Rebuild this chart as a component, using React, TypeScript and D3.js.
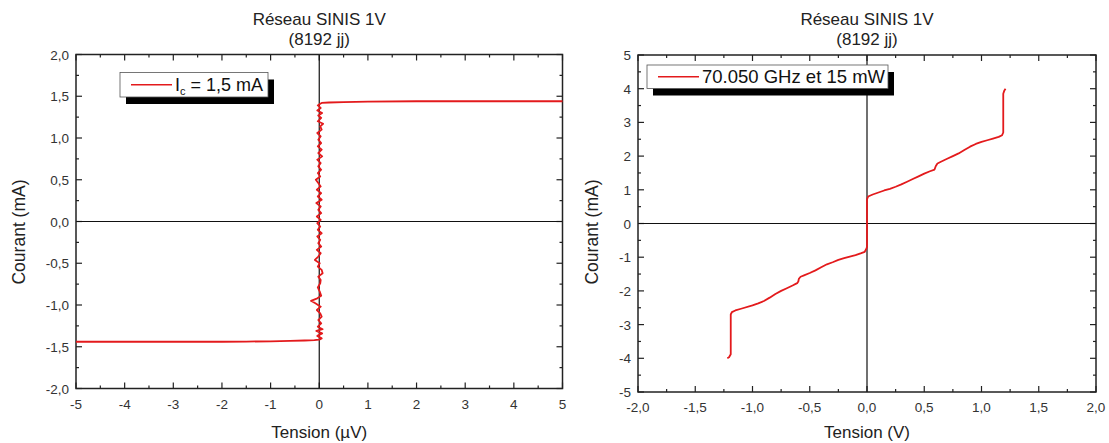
import { useEffect, useRef } from 'react'
import * as d3 from 'd3'

// Left panel: critical current sweep (µV, mA)
const jjTension = [
  -5, -4, -3, -2, -1.5, -1, -0.6, -0.3, -0.1, 0.0,
  0.05, -0.04, 0.06, -0.06, 0.07, -0.03, 0.04, -0.02, 0.05, 0.02,
  -0.05, 0.03, -0.08, -0.17, -0.04, 0.04, 0.01, -0.03, 0.02, 0.03,
  -0.02, 0.07, 0.05, -0.03, 0.01, -0.09, -0.02, 0.03, -0.05, 0.04,
  -0.02, 0.02, -0.04, 0.05, -0.03, 0.02, -0.04, 0.03, -0.05, 0.04,
  -0.02, 0.03, -0.06, 0.05, -0.03, 0.04, -0.05, 0.03, -0.02, -0.07,
  0.02, -0.03, 0.04, -0.02, 0.03, -0.04, 0.06, -0.02, 0.05, -0.03,
  0.04, -0.02, 0.03, -0.04, 0.05, 0.02, 0.08, -0.03, 0.04, -0.02,
  0.06, -0.04, 0.03, -0.03, 0.02,
  0.05, 0.2, 0.5, 1, 2, 3, 4, 5
]
const jjCourant = [
  -1.44, -1.44, -1.44, -1.44, -1.438, -1.435, -1.43, -1.425, -1.42, -1.415,
  -1.40, -1.37, -1.34, -1.31, -1.29, -1.26, -1.22, -1.18, -1.14, -1.10,
  -1.06, -1.02, -0.98, -0.95, -0.92, -0.89, -0.84, -0.79, -0.74, -0.70,
  -0.66, -0.62, -0.58, -0.54, -0.50, -0.46, -0.42, -0.38, -0.34, -0.30,
  -0.26, -0.22, -0.18, -0.14, -0.10, -0.06, -0.02, 0.02, 0.06, 0.10,
  0.14, 0.18, 0.22, 0.26, 0.30, 0.34, 0.38, 0.42, 0.46, 0.50,
  0.54, 0.58, 0.62, 0.66, 0.70, 0.74, 0.78, 0.82, 0.86, 0.90,
  0.94, 0.98, 1.02, 1.06, 1.10, 1.14, 1.17, 1.20, 1.24, 1.27,
  1.30, 1.33, 1.36, 1.39, 1.41,
  1.42, 1.425, 1.43, 1.435, 1.44, 1.44, 1.44, 1.44
]

// Right panel: under 70 GHz irradiation (V, mA)
const rfTension = [
  -1.22, -1.205, -1.19, -1.19, -1.19, -1.18, -1.15, -1.1, -1.0, -0.95,
  -0.9, -0.85, -0.8, -0.75, -0.7, -0.65, -0.61, -0.6, -0.595, -0.58,
  -0.55, -0.5, -0.45, -0.4, -0.35, -0.3, -0.25, -0.2, -0.15, -0.1,
  -0.05, -0.02, -0.01, 0, 0, 0, 0.01, 0.05, 0.1, 0.15,
  0.2, 0.25, 0.3, 0.35, 0.4, 0.45, 0.5, 0.55, 0.59, 0.6,
  0.615, 0.65, 0.7, 0.75, 0.8, 0.85, 0.9, 0.95, 1.0, 1.05,
  1.1, 1.15, 1.18, 1.19, 1.19, 1.19, 1.2, 1.21
]
const rfCourant = [
  -4.0, -3.97, -3.88, -3.3, -2.7, -2.63, -2.58, -2.53, -2.43, -2.37,
  -2.3, -2.2, -2.09, -2.0, -1.92, -1.84, -1.77, -1.72, -1.64, -1.58,
  -1.54, -1.47, -1.39, -1.3, -1.21, -1.15, -1.08, -1.03, -0.98, -0.94,
  -0.88, -0.84, -0.78, -0.7, 0, 0.72, 0.8, 0.86, 0.92, 0.98,
  1.03, 1.09, 1.16, 1.24, 1.32, 1.4, 1.48, 1.55, 1.6, 1.7,
  1.78, 1.84, 1.92, 2.0, 2.08, 2.18, 2.28, 2.36, 2.42, 2.47,
  2.52, 2.57, 2.62, 2.7, 3.3, 3.85, 3.95, 4.0
]

const leftXTicks = [-5, -4, -3, -2, -1, 0, 1, 2, 3, 4, 5]
const leftYTicks = [-2, -1.5, -1, -0.5, 0, 0.5, 1, 1.5, 2]
const rightXTicks = [-2, -1.5, -1, -0.5, 0, 0.5, 1, 1.5, 2]
const rightYTicks = [-5, -4, -3, -2, -1, 0, 1, 2, 3, 4, 5]

const FONT = "'Liberation Sans', Arial, sans-serif"
const RED = '#e31a1c'
const comma = (d: number) => d.toFixed(1).replace('.', ',')
const integer = (d: number) => `${d}`

interface Panel {
  box: { left: number; right: number; top: number; bottom: number }
  xDomain: [number, number]
  yDomain: [number, number]
  xTicks: number[]
  yTicks: number[]
  xFmt: (d: number) => string
  yFmt: (d: number) => string
  xs: number[]
  ys: number[]
  xTitle: string
  yTitleX: number
  legend: { x: number; y: number; w: number; h: number; size: number }
  legendText: 'ic' | string
}

function drawPanel(svg: d3.Selection<SVGSVGElement, unknown, null, undefined>, p: Panel) {
  const { box } = p
  const x = d3.scaleLinear().domain(p.xDomain).range([box.left, box.right])
  const y = d3.scaleLinear().domain(p.yDomain).range([box.bottom, box.top])
  const g = svg.append('g')

  const xStep = p.xTicks[1] - p.xTicks[0]
  const yStep = p.yTicks[1] - p.yTicks[0]
  const xMinor = p.xTicks.slice(0, -1).map(d => d + xStep / 2)
  const yMinor = p.yTicks.slice(0, -1).map(d => d + yStep / 2)
  const major = 6
  const minor = 3
  const tickColor = '#222'

  // ticks pointing inward on all four sides
  const tickG = g.append('g').attr('stroke', tickColor).attr('stroke-width', 1.2)
  ;[[p.xTicks, major], [xMinor, minor]].forEach(([vals, len]) => {
    ;(vals as number[]).forEach(v => {
      tickG.append('line').attr('x1', x(v)).attr('x2', x(v)).attr('y1', box.bottom).attr('y2', box.bottom - (len as number))
      tickG.append('line').attr('x1', x(v)).attr('x2', x(v)).attr('y1', box.top).attr('y2', box.top + (len as number))
    })
  })
  ;[[p.yTicks, major], [yMinor, minor]].forEach(([vals, len]) => {
    ;(vals as number[]).forEach(v => {
      tickG.append('line').attr('y1', y(v)).attr('y2', y(v)).attr('x1', box.left).attr('x2', box.left + (len as number))
      tickG.append('line').attr('y1', y(v)).attr('y2', y(v)).attr('x1', box.right).attr('x2', box.right - (len as number))
    })
  })

  // zero lines
  g.append('line')
    .attr('x1', x(0)).attr('x2', x(0)).attr('y1', box.top).attr('y2', box.bottom)
    .attr('stroke', '#111').attr('stroke-width', 1.2)
  g.append('line')
    .attr('x1', box.left).attr('x2', box.right).attr('y1', y(0)).attr('y2', y(0))
    .attr('stroke', '#111').attr('stroke-width', 1.2)

  // frame
  g.append('rect')
    .attr('x', box.left).attr('y', box.top)
    .attr('width', box.right - box.left).attr('height', box.bottom - box.top)
    .attr('fill', 'none').attr('stroke', tickColor).attr('stroke-width', 1.5)

  // tick labels
  g.append('g')
    .selectAll('text')
    .data(p.xTicks)
    .join('text')
    .attr('x', d => x(d))
    .attr('y', box.bottom + 20)
    .attr('text-anchor', 'middle')
    .attr('font-size', 13.5)
    .attr('fill', '#333')
    .text(d => p.xFmt(d))
  g.append('g')
    .selectAll('text')
    .data(p.yTicks)
    .join('text')
    .attr('x', box.left - 7)
    .attr('y', d => y(d) + 5)
    .attr('text-anchor', 'end')
    .attr('font-size', 13.5)
    .attr('fill', '#333')
    .text(d => p.yFmt(d))

  // curve
  const pts = p.xs.map((v, i) => [v, p.ys[i]] as [number, number])
  g.append('path')
    .datum(pts)
    .attr('fill', 'none')
    .attr('stroke', RED)
    .attr('stroke-width', 1.8)
    .attr('stroke-linejoin', 'round')
    .attr('d', d3.line<[number, number]>().x(d => x(d[0])).y(d => y(d[1])))

  // titles
  const cx = (box.left + box.right) / 2
  g.append('text').attr('x', cx).attr('y', 25).attr('text-anchor', 'middle')
    .attr('font-size', 17).attr('fill', '#222').text('Réseau SINIS 1V')
  g.append('text').attr('x', cx).attr('y', 45).attr('text-anchor', 'middle')
    .attr('font-size', 17).attr('fill', '#222').text('(8192 jj)')
  g.append('text').attr('x', cx).attr('y', 438).attr('text-anchor', 'middle')
    .attr('font-size', 17).attr('fill', '#222').text(p.xTitle)
  g.append('text')
    .attr('transform', `translate(${p.yTitleX},232) rotate(-90)`)
    .attr('text-anchor', 'middle')
    .attr('font-size', 17.5).attr('fill', '#222').text('Courant (mA)')

  // legend with drop shadow
  const L = p.legend
  g.append('rect').attr('x', L.x + 6).attr('y', L.y + 7).attr('width', L.w).attr('height', L.h).attr('fill', '#000')
  g.append('rect').attr('x', L.x).attr('y', L.y).attr('width', L.w).attr('height', L.h)
    .attr('fill', '#fff').attr('stroke', '#555').attr('stroke-width', 0.8)
  const midY = L.y + L.h / 2
  g.append('line').attr('x1', L.x + 11).attr('x2', L.x + 52).attr('y1', midY).attr('y2', midY)
    .attr('stroke', RED).attr('stroke-width', 1.7)
  const t = g.append('text').attr('x', L.x + 55).attr('y', midY + L.size * 0.36)
    .attr('font-size', L.size).attr('fill', '#111')
  if (p.legendText === 'ic') {
    t.append('tspan').text('I')
    t.append('tspan').attr('dy', 4).attr('font-size', 11).text('c')
    t.append('tspan').attr('dy', -4).text(' = 1,5 mA')
  } else {
    t.text(p.legendText)
  }
}

export default function App() {
  const svgRef = useRef<SVGSVGElement>(null)

  useEffect(() => {
    if (!svgRef.current) return
    const svg = d3.select(svgRef.current)
    svg.selectAll('*').remove()

    drawPanel(svg, {
      box: { left: 76, right: 562.5, top: 54.5, bottom: 388.5 },
      xDomain: [-5, 5],
      yDomain: [-2, 2],
      xTicks: leftXTicks,
      yTicks: leftYTicks,
      xFmt: integer,
      yFmt: comma,
      xs: jjTension,
      ys: jjCourant,
      xTitle: 'Tension (µV)',
      yTitleX: 25,
      legend: { x: 120, y: 72.5, w: 148, h: 24.5, size: 18 },
      legendText: 'ic'
    })

    drawPanel(svg, {
      box: { left: 638, right: 1096, top: 55, bottom: 392 },
      xDomain: [-2, 2],
      yDomain: [-5, 5],
      xTicks: rightXTicks,
      yTicks: rightYTicks,
      xFmt: comma,
      yFmt: integer,
      xs: rfTension,
      ys: rfCourant,
      xTitle: 'Tension (V)',
      yTitleX: 598,
      legend: { x: 647, y: 65, w: 241, h: 23.5, size: 18.5 },
      legendText: '70.050 GHz et 15 mW'
    })
  }, [])

  return (
    <>
      <style>{'body{margin:0}'}</style>
      <svg
        ref={svgRef}
        width={1109}
        height={443}
        style={{ display: 'block', background: '#fff', fontFamily: FONT }}
      />
    </>
  )
}
